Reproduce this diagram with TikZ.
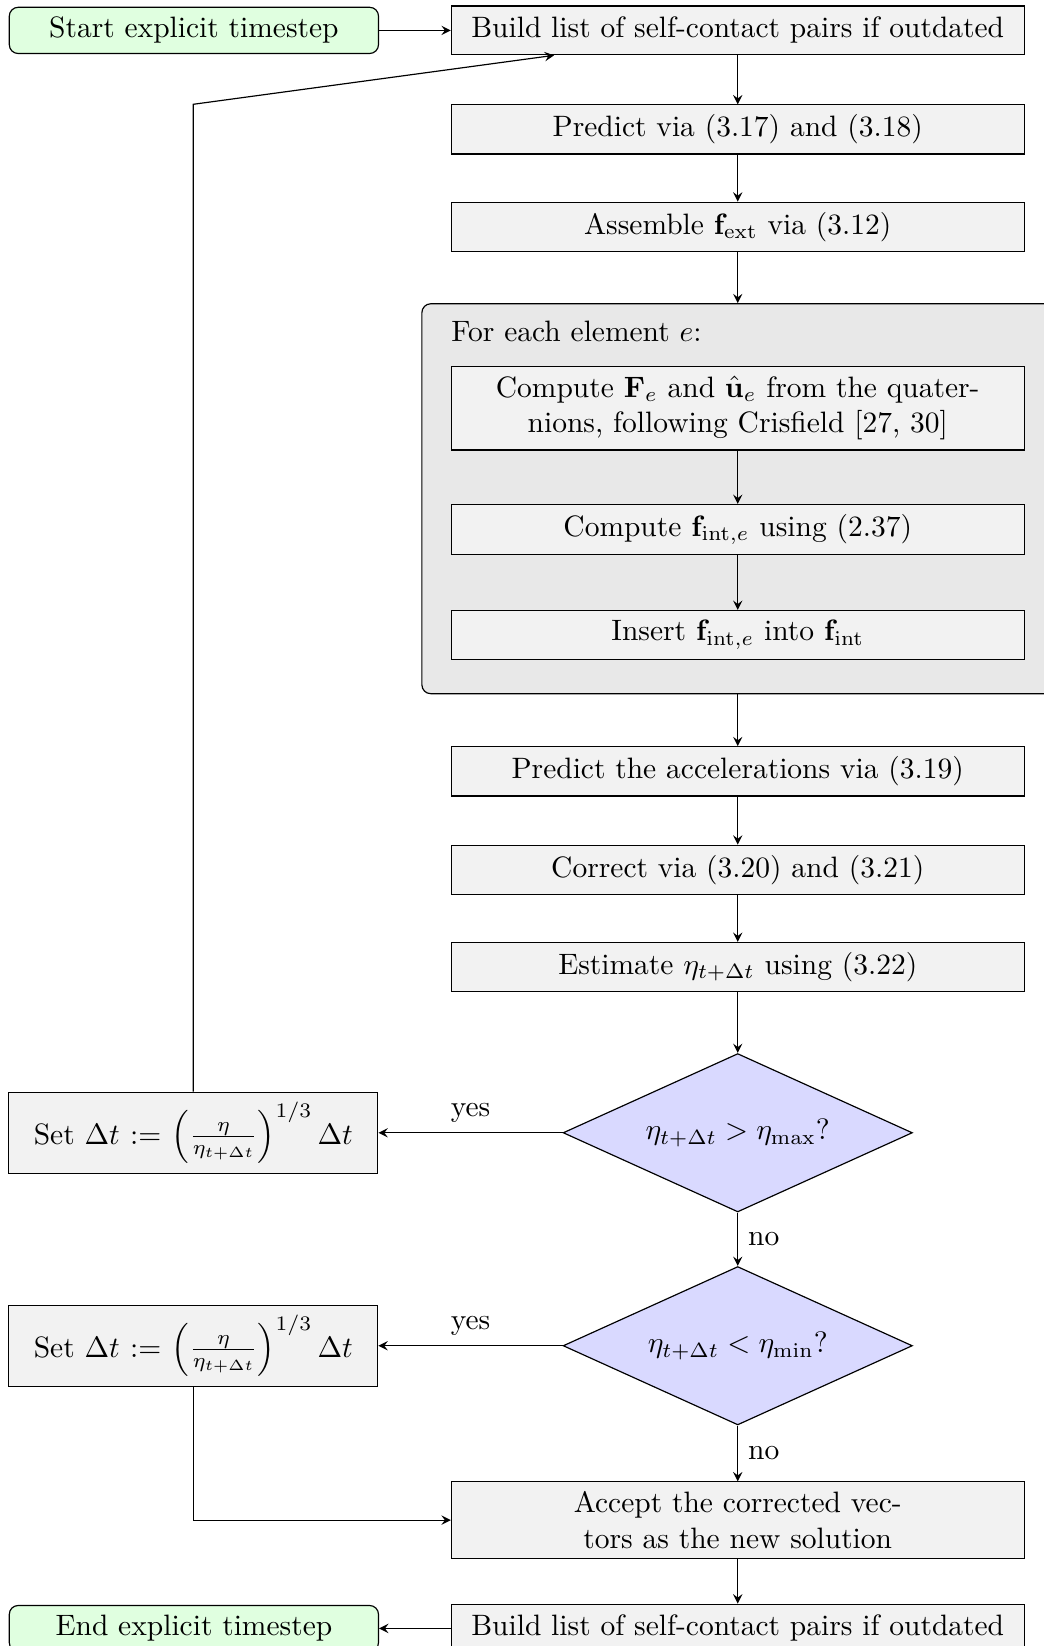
\documentclass[tikz,border=0pt]{standalone}
\usetikzlibrary{positioning,shapes.geometric,fit,calc,backgrounds}
\begin{document}
\begin{tikzpicture}[
        node distance=16.3pt,
        >=stealth,
    ]

    \tikzstyle{box} = [rectangle, minimum height=16.5pt, text width=187.5pt,
                       align=center, draw=black, fill=black!5]
    \tikzstyle{sidebox} = [rectangle, minimum height=26.8pt, text width=118.5pt,
                       align=center, draw=black, fill=black!5]
    \tikzstyle{terminal} = [rectangle, rounded corners=3pt, text width=118.5pt,
                       align=center, draw=black, fill=green!12]
    \tikzstyle{decision} = [diamond, aspect=2.2, minimum width=118.4pt,
                       minimum height=53.7pt, inner sep=1pt, draw=black, fill=blue!15]
    \tikzstyle{loopbox} = [rectangle, rounded corners=3pt, inner sep=0pt,
                       draw=black, fill=black!9]

    \useasboundingbox (0,0) rectangle (353.9pt,-558pt);

    % Nodes
    \node[box] (build) at (250.1pt,-10.3pt) {Build list of self-contact pairs if outdated};
    \node[box, below=16.6pt of build] (predict) {Predict via (3.17) and (3.18)};
    \node[box, below=15.9pt of predict] (assemble) {Assemble $\mathbf{f}_{\mathrm{ext}}$ via (3.12)};
    \node[box, below=38.7pt of assemble] (computeF) {Compute $\mathbf{F}_e$ and $\hat{\mathbf{u}}_e$ from the quater-\\nions, following Crisfield [27, 30]};
    \node[box, below=18.1pt of computeF] (fint) {Compute $\mathbf{f}_{\mathrm{int},e}$ using (2.37)};
    \node[box, below=18.5pt of fint] (insert) {Insert $\mathbf{f}_{\mathrm{int},e}$ into $\mathbf{f}_{\mathrm{int}}$};
    \node[box, below=29.3pt of insert] (predacc) {Predict the accelerations via (3.19)};
    \node[box, below=of predacc] (correct) {Correct via (3.20) and (3.21)};
    \node[box, below=15.9pt of correct] (estimate) {Estimate $\eta_{t+\Delta t}$ using (3.22)};
    \node[decision, below=20.6pt of estimate] (toolarge) {$\eta_{t+\Delta t} > \eta_{\mathrm{max}}$?};
    \node[decision, below=18.1pt of toolarge] (toosmall) {$\eta_{t+\Delta t} < \eta_{\mathrm{min}}$?};
    \node[box, below=18.9pt of toosmall] (accept) {Accept the corrected vec-\\tors as the new solution};
    \node[box, below=15.1pt of accept] (rebuild) {Build list of self-contact pairs if outdated};

    \node[terminal, left=24.3pt of build] (start) {Start explicit timestep};
    \node[terminal, left=24.3pt of rebuild] (stop) {End explicit timestep};
    \node[sidebox, left=62.4pt of toolarge] (shrink) {Set $\Delta t := \left(\frac{\eta}{\eta_{t+\Delta t}}\right)^{1/3} \Delta t$};
    \node[sidebox, left=62.4pt of toosmall] (grow) {Set $\Delta t := \left(\frac{\eta}{\eta_{t+\Delta t}}\right)^{1/3} \Delta t$};

    % Element loop
    \node[anchor=base west, inner sep=0pt] (looplabel) at ($(computeF.north west)+(0,8.2pt)$) {For each element $e$:};
    \begin{scope}[on background layer]
        \node[loopbox, fit={($(computeF.north west)+(-9.8pt,21.1pt)$) ($(insert.south east)+(9.8pt,-11.5pt)$)}] (elements) {};
    \end{scope}

    % Arrows
    \draw[->] (start) -- (build);
    \draw[->] (build) -- (predict);
    \draw[->] (predict) -- (assemble);
    \draw[->] (assemble) -- (elements);
    \draw[->] (computeF) -- (fint);
    \draw[->] (fint) -- (insert);
    \draw[->] (elements) -- (predacc);
    \draw[->] (predacc) -- (correct);
    \draw[->] (correct) -- (estimate);
    \draw[->] (estimate) -- (toolarge);
    \draw[->] (toolarge) -- (shrink) node[midway, above] {yes};
    \draw[->] (toolarge) -- (toosmall) node[midway, right] {no};
    \draw[->] (toosmall) -- (grow) node[midway, above] {yes};
    \draw[->] (toosmall) -- (accept) node[midway, right] {no};
    \draw[->] (accept) -- (rebuild);
    \draw[->] (rebuild) -- (stop);

    % Return arrows
    \draw[->] (shrink) -- (shrink |- predict.north) -- (build);
    \draw[->] (grow) |- (accept);

\end{tikzpicture}
\end{document}
